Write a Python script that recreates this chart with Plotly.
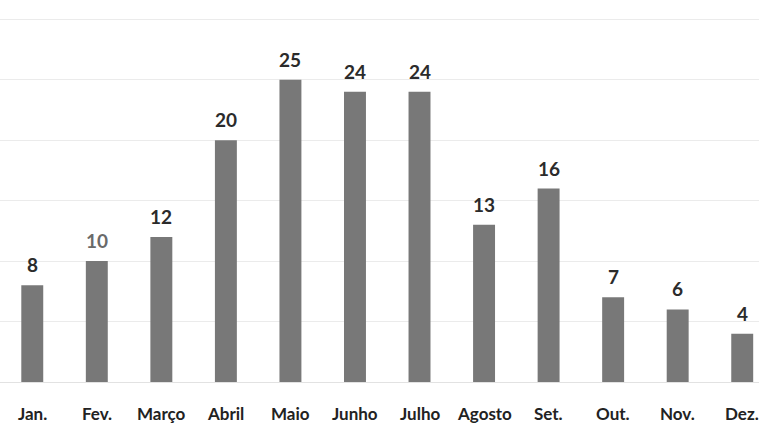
import plotly.graph_objects as go

months = ["Jan.", "Fev.", "Março", "Abril", "Maio", "Junho", "Julho",
          "Agosto", "Set.", "Out.", "Nov.", "Dez."]
values = [8, 10, 12, 20, 25, 24, 24, 13, 16, 7, 6, 4]
label_colors = ["#2b2b2b", "#6a6a6a", "#2b2b2b", "#2b2b2b", "#2b2b2b", "#2b2b2b",
                "#2b2b2b", "#2b2b2b", "#2b2b2b", "#2b2b2b", "#2b2b2b", "#2b2b2b"]

xs = list(range(len(months)))

fig = go.Figure(go.Bar(
    x=xs,
    y=values,
    marker=dict(color="#787878", line=dict(width=0)),
    width=0.34,
))

for x, v, c in zip(xs, values, label_colors):
    fig.add_annotation(
        x=x, y=v, text=f"<b>{v}</b>", showarrow=False,
        yanchor="bottom", yshift=7,
        font=dict(family="Lato", size=19, color=c),
    )

for x, m in zip(xs, months):
    fig.add_annotation(
        x=x, xref="x", y=0, yref="paper", text=f"<b>{m}</b>", showarrow=False,
        yanchor="top", yshift=-19,
        font=dict(family="Lato", size=17, color="#222222"),
    )

fig.update_layout(
    width=759, height=429,
    margin=dict(l=0, r=0, t=18, b=47),
    paper_bgcolor="white", plot_bgcolor="white",
    showlegend=False,
    font=dict(family="Lato", color="#222222"),
    xaxis=dict(
        range=[-0.5, 11.26],
        showticklabels=False,
        showgrid=False, zeroline=False, showline=False,
    ),
    yaxis=dict(
        range=[0, 30.1],
        tickmode="array",
        tickvals=[5, 10, 15, 20, 25, 30],
        showticklabels=False,
        showgrid=True, gridcolor="#ebebeb", gridwidth=1,
        zeroline=True, zerolinecolor="#e2e2e2", zerolinewidth=1,
    ),
)

fig.write_html("out.html")
